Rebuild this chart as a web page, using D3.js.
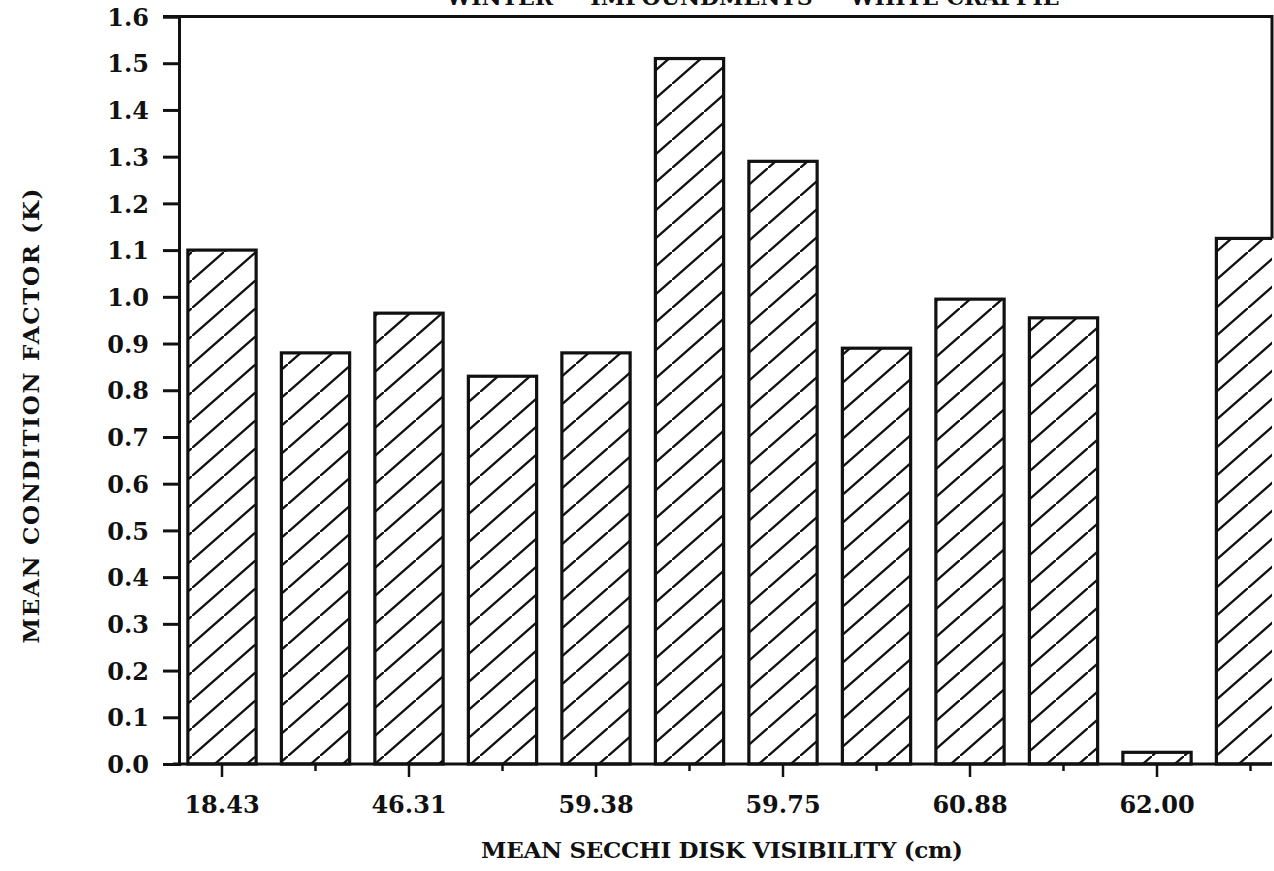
<!DOCTYPE html>
<html>
<head>
<meta charset="utf-8">
<script src="https://cdn.jsdelivr.net/npm/d3@7"></script>
<style>
  html, body { margin: 0; padding: 0; background: #fff; }
  svg { display: block; }
  text { font-family: "DejaVu Serif", serif; font-weight: bold; fill: #111; }
</style>
</head>
<body>
<svg id="chart"></svg>
<script>
// bars, left to right
var bars = d3.range(12);
var tickLabels = ["18.43", "", "46.31", "", "59.38", "", "59.75", "", "60.88", "", "62.00", ""];
var conditionK = [1.10, 0.88, 0.965, 0.83, 0.88, 1.51, 1.29, 0.89, 0.995, 0.955, 0.025, 1.125];
var yTicks = [0.0, 0.1, 0.2, 0.3, 0.4, 0.5, 0.6, 0.7, 0.8, 0.9, 1.0, 1.1, 1.2, 1.3, 1.4, 1.5, 1.6];

var width = 1274,
    height = 871;

var plotLeft = 179, plotRight = 1272, plotTop = 16.5, plotBottom = 764;

var svg = d3.select("#chart")
    .attr("width", width)
    .attr("height", height);

// hatch pattern "/"
var defs = svg.append("defs");
defs.append("pattern")
    .attr("id", "hatch")
    .attr("patternUnits", "userSpaceOnUse")
    .attr("width", 32)
    .attr("height", 28)
  .append("path")
    .attr("d", "M-8,35 L40,-7")
    .attr("stroke", "#111")
    .attr("stroke-width", 2.4);

defs.append("clipPath")
    .attr("id", "plotclip")
  .append("rect")
    .attr("x", plotLeft)
    .attr("y", 0)
    .attr("width", plotRight - plotLeft)
    .attr("height", plotBottom + 2);

var x = d3.scaleBand()
    .domain(bars)
    .range([175.25, 175.25 + 12 * 93.5])
    .paddingInner(0.27)
    .paddingOuter(0.135);

var y = d3.scaleLinear()
    .domain([0, 1.6])
    .range([plotBottom, plotTop]);

// title (cut off at the top of the scan)
svg.append("text")
    .attr("x", 753)
    .attr("y", 5)
    .attr("text-anchor", "middle")
    .style("font-size", "22px")
    .text("WINTER  —  IMPOUNDMENTS  —  WHITE CRAPPIE");

// bars
svg.append("g")
    .attr("clip-path", "url(#plotclip)")
    .selectAll("rect")
    .data(bars)
    .enter().append("rect")
    .attr("x", function(d) { return x(d); })
    .attr("y", function(d) { return y(conditionK[d]); })
    .attr("width", x.bandwidth())
    .attr("height", function(d) { return y(0) - y(conditionK[d]); })
    .attr("fill", "url(#hatch)")
    .attr("stroke", "#111")
    .attr("stroke-width", 3.2);

// frame: top and right
svg.append("path")
    .attr("d", "M" + (plotLeft - 16) + "," + plotTop + "H" + plotRight + "V" + y(conditionK[11]))
    .attr("fill", "none")
    .attr("stroke", "#111")
    .attr("stroke-width", 3);

// y axis
var yAxis = d3.axisLeft(y)
    .tickValues(yTicks)
    .tickSize(16)
    .tickPadding(14)
    .tickFormat(d3.format(".1f"));

var gy = svg.append("g")
    .attr("transform", "translate(" + plotLeft + ",0)")
    .call(yAxis);
gy.select(".domain").attr("stroke", "#111").attr("stroke-width", 3);
gy.selectAll(".tick line").attr("stroke", "#111").attr("stroke-width", 3);
gy.selectAll(".tick text")
    .style("font-size", "24px")
    .attr("dy", "0.36em");

// x axis
var xAxis = d3.axisBottom(x)
    .tickSizeOuter(0)
    .tickSizeInner(12)
    .tickPadding(20)
    .tickFormat(function(d) { return tickLabels[d]; });

var gx = svg.append("g")
    .attr("transform", "translate(0," + plotBottom + ")")
    .call(xAxis);
gx.select(".domain")
    .attr("d", "M" + (plotLeft - 6) + ",0H" + plotRight)
    .attr("stroke", "#111")
    .attr("stroke-width", 3);
gx.selectAll(".tick line")
    .attr("stroke", "#111")
    .attr("stroke-width", 2.5)
    .attr("y2", function(d) { return tickLabels[d] ? 13 : 7; });
gx.selectAll(".tick text")
    .style("font-size", "24px")
    .attr("dy", "0.71em");

// axis titles
svg.append("text")
    .attr("x", 722)
    .attr("y", 858)
    .attr("text-anchor", "middle")
    .attr("textLength", 482)
    .attr("lengthAdjust", "spacing")
    .style("font-size", "23px")
    .text("MEAN SECCHI DISK VISIBILITY (cm)");

svg.append("text")
    .attr("transform", "translate(39,416)rotate(-90)")
    .attr("text-anchor", "middle")
    .attr("textLength", 455)
    .attr("lengthAdjust", "spacing")
    .style("font-size", "23px")
    .text("MEAN CONDITION FACTOR (K)");
</script>
</body>
</html>
